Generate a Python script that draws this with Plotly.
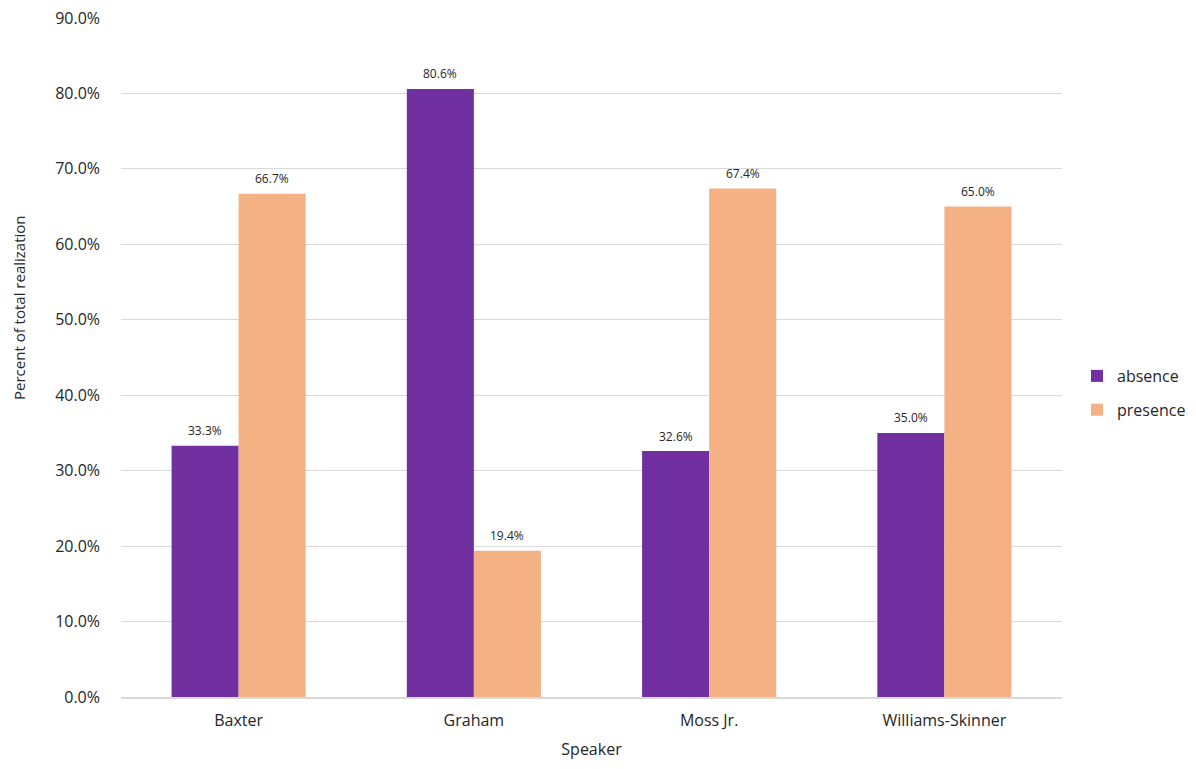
import plotly.graph_objects as go

speakers = ["Baxter", "Graham", "Moss Jr.", "Williams-Skinner"]
absence = [33.3, 80.6, 32.6, 35.0]
presence = [66.7, 19.4, 67.4, 65.0]
y_ticks = [0, 10, 20, 30, 40, 50, 60, 70, 80, 90]

FONT = "'Open Sans', sans-serif"
TEXT = "#262626"
BAR_GAP = 0.43
W, H = 1196, 769
M = dict(l=121, r=134, t=18, b=72)
series = [("absence", absence, "#7030A0"), ("presence", presence, "#F4B183")]

fig = go.Figure()
for name, vals, color in series:
    fig.add_trace(go.Bar(
        x=speakers, y=vals, name=name, legendgroup=name,
        marker=dict(color=color, line=dict(width=0)),
        hovertemplate="%{x}: %{y:.1f}%<extra>" + name + "</extra>",
    ))

# value labels centred over each bar of a group
bar_w = (1 - BAR_GAP) / len(series)
annotations = []
for k, (name, vals, _) in enumerate(series):
    off = (k - (len(series) - 1) / 2) * bar_w
    for i, v in enumerate(vals):
        annotations.append(dict(
            x=i + off, y=v, xref="x", yref="y", text=f"{v:.1f}%",
            showarrow=False, yshift=15, yanchor="middle",
            font=dict(size=12, color=TEXT, family=FONT),
        ))

# vertical axis title, placed by pixel position within the page
plot_w = W - M["l"] - M["r"]
plot_h = H - M["t"] - M["b"]
annotations.append(dict(
    x=(19 - M["l"]) / plot_w, y=(H - M["b"] - 308) / plot_h,
    xref="paper", yref="paper", text="Percent of total realization",
    showarrow=False, textangle=-90, xanchor="center", yanchor="middle",
    font=dict(size=15, color=TEXT, family=FONT),
))

fig.update_layout(
    width=W, height=H,
    margin=M,
    paper_bgcolor="white", plot_bgcolor="white",
    font=dict(family=FONT, color=TEXT, size=16),
    barmode="group", bargap=BAR_GAP, bargroupgap=0,
    legend=dict(xref="container", yref="container",
                x=1077 / W, y=(H - 393) / H, xanchor="left", yanchor="middle",
                font=dict(size=16, color=TEXT), tracegroupgap=10,
                itemwidth=30),
    showlegend=True,
    annotations=annotations,
)
fig.update_xaxes(
    title=dict(text="Speaker", font=dict(size=16), standoff=14),
    showgrid=False, showline=True, linecolor="#d9d9d9", linewidth=1.5,
    ticks="", tickfont=dict(size=16), ticklabelstandoff=8, automargin=False,
)
fig.update_yaxes(
    range=[0, 90], tickvals=y_ticks, ticktext=[f"{v:.1f}%" for v in y_ticks],
    showgrid=True, gridcolor="#d9d9d9", gridwidth=1.2, zeroline=False,
    tickfont=dict(size=16), ticks="", ticklabelstandoff=20, automargin=False,
)

fig.write_html("out.html")
